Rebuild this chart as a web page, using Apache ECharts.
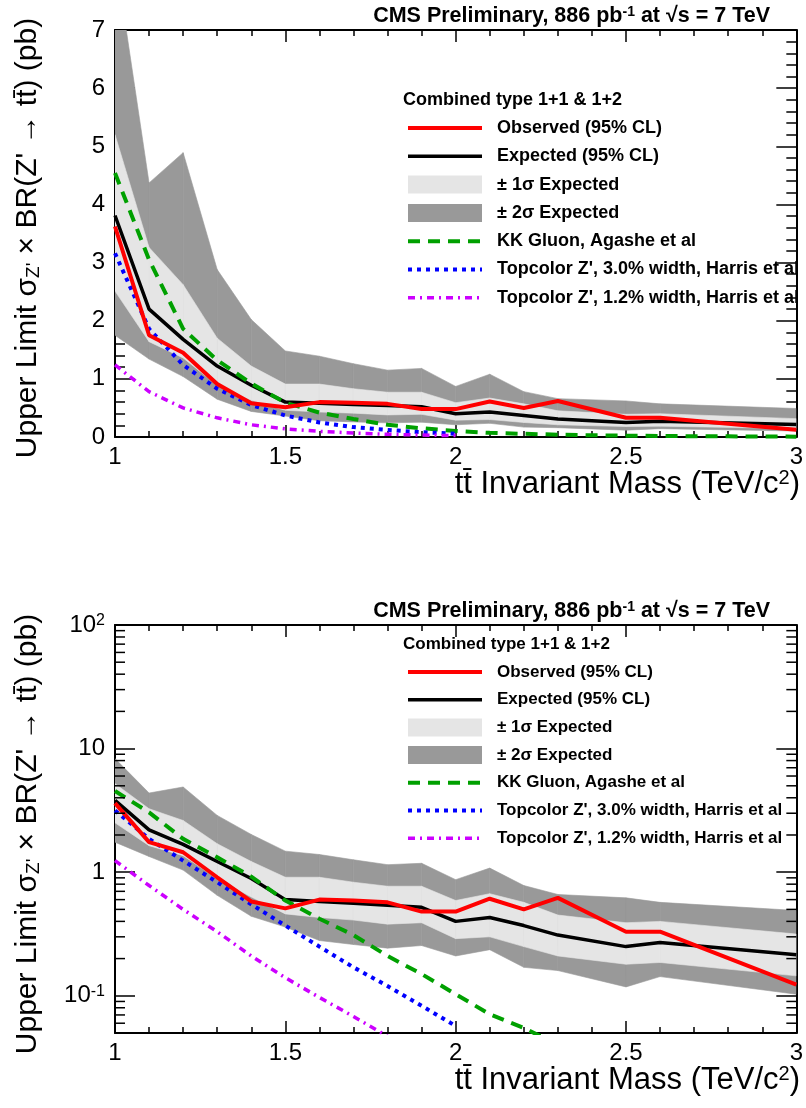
<!DOCTYPE html>
<html>
<head>
<meta charset="utf-8">
<title>Z' -> ttbar limits</title>
<script src="https://cdn.jsdelivr.net/npm/echarts@6/dist/echarts.min.js"></script>
<style>
  html, body { margin: 0; padding: 0; background: #fff; }
  #chart { width: 806px; height: 1108px; }
</style>
</head>
<body>
<div id="chart"></div>
<script>
// resonance masses (TeV/c^2) where the limit was evaluated
const massPoints = [1.0, 1.1, 1.2, 1.3, 1.4, 1.5, 1.6, 1.7, 1.8, 1.9, 2.0, 2.1, 2.2, 2.3, 2.5, 2.6, 3.0];
// limits in pb
const observed = [3.62, 1.75, 1.45, 0.91, 0.58, 0.51, 0.60, 0.59, 0.57, 0.48, 0.48, 0.61, 0.50, 0.62, 0.33, 0.33, 0.123];
const expected = [3.81, 2.20, 1.68, 1.22, 0.89, 0.60, 0.58, 0.56, 0.54, 0.52, 0.40, 0.43, 0.37, 0.31, 0.25, 0.27, 0.215];
const sigma1Low = [2.51, 1.64, 1.36, 0.89, 0.63, 0.46, 0.43, 0.41, 0.38, 0.39, 0.29, 0.30, 0.25, 0.21, 0.18, 0.186, 0.145];
const sigma1High = [5.20, 3.26, 2.62, 1.70, 1.22, 0.91, 0.91, 0.83, 0.77, 0.77, 0.59, 0.67, 0.57, 0.45, 0.39, 0.40, 0.316];
const sigma2Low = [1.75, 1.34, 1.04, 0.65, 0.44, 0.36, 0.28, 0.26, 0.243, 0.255, 0.21, 0.236, 0.17, 0.16, 0.118, 0.143, 0.103];
const sigma2High = [8.30, 4.37, 4.89, 2.88, 2.02, 1.48, 1.39, 1.26, 1.15, 1.18, 0.87, 1.08, 0.78, 0.66, 0.62, 0.57, 0.49];

// theory curves
const kkMass = [1.0, 1.1, 1.2, 1.3, 1.4, 1.5, 1.6, 1.7, 1.8, 1.9, 2.0, 2.1, 2.2, 2.3, 2.4, 2.5, 2.6, 2.7, 2.8, 2.9, 3.0];
const kkGluon = [4.54, 3.05, 1.86, 1.32, 0.92, 0.59, 0.42, 0.31, 0.21, 0.15, 0.103, 0.071, 0.055, 0.040, 0.030, 0.023, 0.018, 0.014, 0.011, 0.008, 0.006];
const topcolorMass = [1.0, 1.1, 1.2, 1.3, 1.4, 1.5, 1.6, 1.7, 1.8, 1.9, 2.0];
const topcolor30 = [3.16, 1.86, 1.24, 0.83, 0.55, 0.37, 0.25, 0.17, 0.12, 0.083, 0.057];
const topcolor12 = [1.24, 0.78, 0.50, 0.33, 0.21, 0.14, 0.097, 0.068, 0.047, 0.033, 0.024];

// minor ticks of the log axis
const logMinorTicks = [0.06, 0.07, 0.08, 0.09, 0.2, 0.3, 0.4, 0.5, 0.6, 0.7, 0.8, 0.9,
  2, 3, 4, 5, 6, 7, 8, 9, 20, 30, 40, 50, 60, 70, 80, 90];

const FONT = 'Liberation Sans';

// style of each entry (also used for the hand made legend)
const styles = {
  observed: { name: 'Observed (95% CL)', color: '#ff0000', width: 4, dash: null },
  expected: { name: 'Expected (95% CL)', color: '#000000', width: 3.5, dash: null },
  sigma1: { name: '± 1σ Expected', color: '#e5e5e5', box: true },
  sigma2: { name: '± 2σ Expected', color: '#999999', box: true },
  kk: { name: 'KK Gluon, Agashe et al', color: '#00a000', width: 4, dash: [12, 8] },
  tc30: { name: "Topcolor Z', 3.0% width, Harris et al", color: '#0000ff', width: 4, dash: [4, 5] },
  tc12: { name: "Topcolor Z', 1.2% width, Harris et al", color: '#cc00ff', width: 3.5, dash: [7, 5, 2, 5] }
};
const legendOrder = ['observed', 'expected', 'sigma1', 'sigma2', 'kk', 'tc30', 'tc12'];

function pairs(xs, ys) {
  return xs.map((x, i) => [x, ys[i]]);
}

// band drawn as one quad per mass interval, clipped to the plot area
function bandSeries(p, lo, hi, color, z) {
  const data = [];
  for (let i = 0; i < massPoints.length - 1; i++) {
    data.push([massPoints[i], lo[i], hi[i], massPoints[i + 1], lo[i + 1], hi[i + 1]]);
  }
  return {
    type: 'custom', xAxisIndex: p * 2, yAxisIndex: p * 2, silent: true, animation: false, z: z,
    data: data,
    encode: { x: [0, 3], y: [1, 2, 4, 5] },
    renderItem: function (params, api) {
      const a = api.coord([api.value(0), api.value(1)]);
      const b = api.coord([api.value(3), api.value(4)]);
      const c = api.coord([api.value(3), api.value(5)]);
      const d = api.coord([api.value(0), api.value(2)]);
      const cs = params.coordSys;
      return {
        type: 'polygon',
        shape: { points: [a, b, c, d] },
        style: { fill: color, stroke: color, lineWidth: 0.6 },
        clipPath: { type: 'rect', shape: { x: cs.x, y: cs.y, width: cs.width, height: cs.height } }
      };
    }
  };
}

function lineSeries(p, key, xs, ys, z) {
  const s = styles[key];
  return {
    type: 'line', name: s.name, xAxisIndex: p * 2, yAxisIndex: p * 2, symbol: 'none', silent: true,
    animation: false, z: z, data: pairs(xs, ys),
    itemStyle: { color: s.color },
    lineStyle: { color: s.color, width: s.width, type: s.dash || 'solid' }
  };
}

function panelSeries(p) {
  return [
    bandSeries(p, sigma2Low, sigma2High, styles.sigma2.color, 1),
    bandSeries(p, sigma1Low, sigma1High, styles.sigma1.color, 2),
    lineSeries(p, 'expected', massPoints, expected, 3),
    lineSeries(p, 'kk', kkMass, kkGluon, 4),
    lineSeries(p, 'tc30', topcolorMass, topcolor30, 4),
    lineSeries(p, 'tc12', topcolorMass, topcolor12, 4),
    lineSeries(p, 'observed', massPoints, observed, 5)
  ];
}

function xAxisFor(gridIndex, position, labels) {
  return {
    type: 'value', gridIndex: gridIndex, position: position, min: 1, max: 3, interval: 0.5,
    axisLine: { show: true, onZero: false, lineStyle: { color: '#000', width: 2 } },
    axisTick: { show: true, inside: true, length: 12, lineStyle: { color: '#000', width: 1.5 } },
    minorTick: { show: true, splitNumber: 5, length: 6, lineStyle: { color: '#000', width: 1.5 } },
    axisLabel: { show: labels, fontFamily: FONT, fontSize: 24, color: '#000', margin: 8 },
    splitLine: { show: false }, minorSplitLine: { show: false }
  };
}

function linearY(gridIndex, position, labels) {
  return {
    type: 'value', gridIndex: gridIndex, position: position, min: 0, max: 7, interval: 1,
    axisLine: { show: true, onZero: false, lineStyle: { color: '#000', width: 2 } },
    axisTick: { show: true, inside: true, length: 20, lineStyle: { color: '#000', width: 1.5 } },
    minorTick: { show: true, splitNumber: 5, length: 10, lineStyle: { color: '#000', width: 1.5 } },
    axisLabel: { show: labels, fontFamily: FONT, fontSize: 24, color: '#000', margin: 10 },
    splitLine: { show: false }, minorSplitLine: { show: false }
  };
}

function logY(gridIndex, position, labels) {
  return {
    type: 'log', logBase: 10, gridIndex: gridIndex, position: position, min: 0.05, max: 100,
    axisLine: { show: true, onZero: false, lineStyle: { color: '#000', width: 2 } },
    axisTick: { show: true, inside: true, length: 20, lineStyle: { color: '#000', width: 1.5 } },
    minorTick: { show: false },
    axisLabel: {
      show: labels, fontFamily: FONT, fontSize: 24, color: '#000', margin: 10,
      formatter: function (v) {
        const e = Math.round(Math.log10(v));
        if (Math.abs(Math.log10(v) - e) > 1e-6) return '';
        if (e === 0) return '1';
        if (e === 1) return '10';
        return '10{sup|' + e + '}';
      },
      rich: { sup: { fontFamily: FONT, fontSize: 16, verticalAlign: 'top', lineHeight: 14, color: '#000' } }
    },
    splitLine: { show: false }, minorSplitLine: { show: false }
  };
}

// legend + texts of one panel; dy shifts the axis titles down
function panelGraphics(dy, headerY, legend) {
  const out = [];
  out.push({
    type: 'text', x: 770, y: headerY, silent: true,
    style: {
      text: 'CMS Preliminary, 886 pb{sup|-1} at √s = 7 TeV', align: 'right', verticalAlign: 'middle',
      fontFamily: FONT, fontWeight: 'bold', fontSize: 21.5, fill: '#000',
      rich: { sup: { fontFamily: FONT, fontWeight: 'bold', fontSize: 14, verticalAlign: 'top', lineHeight: 12 } }
    }
  });
  out.push({
    type: 'text', x: 403, y: legend.headerY, silent: true,
    style: { text: 'Combined type 1+1 & 1+2', align: 'left', verticalAlign: 'middle', fontFamily: FONT, fontWeight: 'bold', fontSize: legend.fontSize, fill: '#000' }
  });
  legendOrder.forEach(function (key, i) {
    const s = styles[key];
    const y = legend.firstY + i * legend.pitch;
    if (s.box) {
      out.push({ type: 'rect', silent: true, shape: { x: 408, y: y - 9, width: 74, height: 18 }, style: { fill: s.color } });
    } else {
      out.push({
        type: 'line', silent: true, shape: { x1: 408, y1: y, x2: 482, y2: y },
        style: { stroke: s.color, lineWidth: s.width, lineDash: s.dash || null }
      });
    }
    out.push({
      type: 'text', x: 497, y: y, silent: true,
      style: { text: s.name, align: 'left', verticalAlign: 'middle', fontFamily: FONT, fontWeight: 'bold', fontSize: legend.fontSize, fill: '#000' }
    });
  });
  out.push({
    type: 'text', x: 800, y: 484 + dy, silent: true,
    style: {
      text: 'tt\u0304 Invariant Mass (TeV/c{sup|2})', align: 'right', verticalAlign: 'middle',
      fontFamily: FONT, fontSize: 31, fill: '#000',
      rich: { sup: { fontFamily: FONT, fontSize: 20, verticalAlign: 'top', lineHeight: 18 } }
    }
  });
  out.push({
    type: 'text', x: 28, y: 238 + dy, rotation: Math.PI / 2, silent: true,
    style: {
      text: "Upper Limit σ{sub|Z'} × BR(Z' → tt\u0304) (pb)", align: 'center', verticalAlign: 'middle',
      fontFamily: FONT, fontSize: 30, fill: '#000',
      rich: { sub: { fontFamily: FONT, fontSize: 19, verticalAlign: 'bottom', lineHeight: 16 } }
    }
  });
  return out;
}

const chart = echarts.init(document.getElementById('chart'), null, { renderer: 'canvas' });

const series = panelSeries(0).concat(panelSeries(1));
series.push({
  type: 'custom', xAxisIndex: 2, yAxisIndex: 2, silent: true, animation: false, z: 6,
  data: logMinorTicks.map(v => [1, v]),
  renderItem: function (params, api) {
    const left = api.coord([1, api.value(1)]);
    const right = api.coord([3, api.value(1)]);
    const st = { stroke: '#000', lineWidth: 1.5 };
    return {
      type: 'group', children: [
        { type: 'line', shape: { x1: left[0], y1: left[1], x2: left[0] + 10, y2: left[1] }, style: st },
        { type: 'line', shape: { x1: right[0] - 10, y1: right[1], x2: right[0], y2: right[1] }, style: st }
      ]
    };
  }
});

const option = {
  backgroundColor: '#fff',
  animation: false,
  grid: [
    { left: 115, top: 30, width: 686, height: 407 },
    { left: 115, top: 625, width: 686, height: 408 }
  ],
  xAxis: [xAxisFor(0, 'bottom', true), xAxisFor(0, 'top', false), xAxisFor(1, 'bottom', true), xAxisFor(1, 'top', false)],
  yAxis: [linearY(0, 'left', true), linearY(0, 'right', false), logY(1, 'left', true), logY(1, 'right', false)],
  graphic: panelGraphics(0, 16, { headerY: 100, firstY: 128, pitch: 28.3, fontSize: 18 })
    .concat(panelGraphics(596, 611, { headerY: 644, firstY: 672, pitch: 27.7, fontSize: 17 })),
  series: series
};

chart.setOption(option);
</script>
</body>
</html>
